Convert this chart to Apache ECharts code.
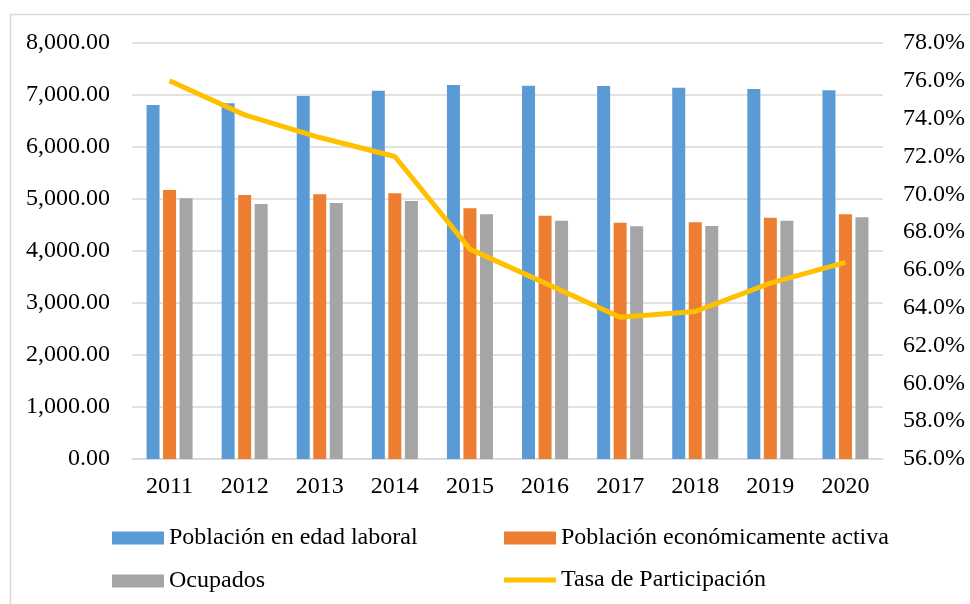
<!DOCTYPE html>
<html>
<head>
<meta charset="utf-8">
<script src="https://cdn.jsdelivr.net/npm/echarts@6/dist/echarts.min.js"></script>
<style>
  html, body { margin: 0; padding: 0; background: #fff; }
  #main { width: 970px; height: 604px; }
</style>
</head>
<body>
<div id="main"></div>
<script>
var years = ['2011', '2012', '2013', '2014', '2015', '2016', '2017', '2018', '2019', '2020']
var edadLaboral = [6808, 6840, 6981, 7083, 7192, 7179, 7173, 7141, 7115, 7090]
var activa = [5173, 5077, 5090, 5109, 4821, 4679, 4545, 4551, 4641, 4705]
var ocupados = [5013, 4904, 4923, 4962, 4705, 4583, 4475, 4481, 4583, 4647]
var tasa = [76.0, 74.2, 73.0, 72.0, 67.1, 65.3, 63.5, 63.8, 65.3, 66.4]

var font = 'Liberation Serif'
var txt = { fontFamily: font, fontSize: 24, color: '#000' }

function fmtMiles(v) {
    var s = Math.round(v).toString().replace(/\B(?=(\d{3})+(?!\d))/g, ',')
    return s + '.00'
}

function legendAt(name, left, top, h) {
    return {
        data: [{ name: name, icon: 'rect' }],
        left: left,
        top: top,
        itemWidth: 52,
        itemHeight: h,
        itemGap: 0,
        padding: 0,
        textStyle: txt,
        selectedMode: false
    }
}

var echart = echarts.init(document.getElementById('main'))

let option = {
    animation: false,
    textStyle: { fontFamily: font },
    graphic: [{
        type: 'rect',
        shape: { x: 10.5, y: 14.5, width: 970, height: 600 },
        style: { fill: 'none', stroke: '#D9D9D9', lineWidth: 1.5 }
    }],
    grid: { left: 132, right: 87, top: 43, bottom: 145 },
    legend: [
        legendAt('Población en edad laboral', 112, 526, 13),
        legendAt('Población económicamente activa', 504, 526, 13),
        legendAt('Ocupados', 112, 569, 13),
        legendAt('Tasa de Participación', 504, 568, 5)
    ],
    xAxis: {
        type: 'category',
        data: years,
        axisLine: { lineStyle: { color: '#D9D9D9', width: 1.5 } },
        axisTick: { show: false },
        axisLabel: Object.assign({ margin: 16 }, txt)
    },
    yAxis: [{
        type: 'value',
        min: 0,
        max: 8000,
        interval: 1000,
        axisLine: { show: false },
        axisTick: { show: false },
        splitLine: { lineStyle: { color: '#D9D9D9', width: 1.5 } },
        axisLabel: Object.assign({ margin: 22, formatter: fmtMiles }, txt)
    }, {
        type: 'value',
        min: 56,
        max: 78,
        interval: 2,
        axisLine: { show: false },
        axisTick: { show: false },
        splitLine: { show: false },
        axisLabel: Object.assign({
            margin: 20,
            formatter: function (v) { return v.toFixed(1) + '%' }
        }, txt)
    }],
    series: [{
        name: 'Población en edad laboral',
        type: 'bar',
        data: edadLaboral,
        barWidth: 13,
        barGap: '27%',
        itemStyle: { color: '#5B9BD5' }
    }, {
        name: 'Población económicamente activa',
        type: 'bar',
        data: activa,
        barWidth: 13,
        barGap: '27%',
        itemStyle: { color: '#ED7D31' }
    }, {
        name: 'Ocupados',
        type: 'bar',
        data: ocupados,
        barWidth: 13,
        barGap: '27%',
        itemStyle: { color: '#A5A5A5' }
    }, {
        name: 'Tasa de Participación',
        type: 'line',
        yAxisIndex: 1,
        data: tasa,
        symbol: 'none',
        lineStyle: { color: '#FFC000', width: 5 },
        itemStyle: { color: '#FFC000' }
    }]
};
echart.setOption(option)
</script>
</body>
</html>
